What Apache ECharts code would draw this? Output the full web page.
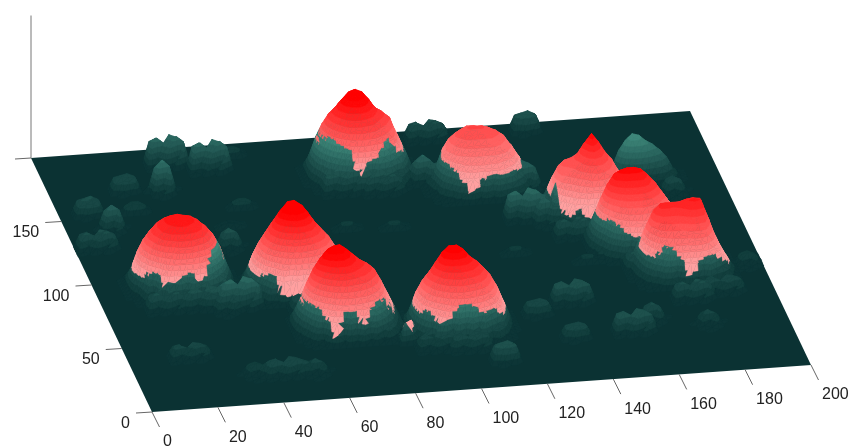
<!DOCTYPE html>
<html><head><meta charset="utf-8">
<style>html,body{margin:0;padding:0;background:#fff}#chart{width:849px;height:448px;filter:blur(0.7px)}</style>
<script src="https://cdn.jsdelivr.net/npm/echarts@6/dist/echarts.min.js"></script>
</head><body><div id="chart"></div>
<script>
const xTicks=[0,20,40,60,80,100,120,140,160,180,200];
const yTicks=[0,50,100,150,200];
const yLabelled=[0,50,100,150];
const zTop=150;
const step=2;
// height tables: rows run back to front, 17 columns low x to high x
const domeA=[
[0,0,3,8,19,31,41,46,50,48,45,41,31,19,8,3,0],
[0,6,17,31,43,50,54,57,59,58,54,50,43,31,17,6,0],
[2,10,25,41,50,57,61,63,64,62,61,57,50,41,25,10,2],
[3,15,33,45,54,61,65,67,68,66,65,61,54,45,33,15,3],
[4,19,37,49,57,62,67,69,70,69,66,62,57,49,37,19,4],
[5,21,38,50,58,63,67,69,69,69,67,63,58,50,38,20,5],
[4,19,37,49,57,62,66,68,69,68,66,62,57,49,37,19,4],
[3,15,33,45,54,61,64,66,67,66,64,61,54,45,33,15,3],
[2,10,25,41,50,57,61,62,63,62,61,57,50,41,25,12,2],
[1,6,17,31,43,50,54,57,58,57,54,50,43,31,19,9,1],
[0,4,14,19,31,41,45,49,50,49,45,41,31,21,16,5,0],
[0,2,12,8,25,32,37,38,38,38,36,30,24,14,15,3,0],
[0,1,8,3,16,22,20,25,18,24,16,20,9,11,10,1,0],
[0,0,3,0,3,11,6,13,4,10,5,9,3,7,2,0,0]];
const skirtA=[18,18,20,28,26,11,13,22,30,28,17,28,44,44,44,20,20];
const domeB=[
[0,0,3,8,17,28,38,46,50,48,42,36,27,16,8,3,0],
[0,5,15,28,38,48,55,60,62,60,54,46,38,28,15,5,0],
[1,9,24,38,48,58,66,70,72,70,64,56,47,37,24,9,1],
[3,13,30,42,52,62,72,78,80,76,68,60,51,42,30,13,3],
[4,18,34,46,55,64,76,84,85,80,72,62,54,46,35,18,4],
[5,20,36,48,56,66,76,83,85,82,72,63,55,48,37,20,5],
[4,19,35,47,55,63,70,76,78,74,68,60,54,47,35,19,4],
[3,15,32,44,52,59,64,68,70,68,63,57,52,44,32,15,3],
[2,10,26,40,48,54,58,60,62,60,57,53,48,40,26,12,2],
[1,7,18,32,42,48,52,54,55,53,51,47,41,32,20,9,1],
[0,5,14,22,32,40,44,46,47,45,43,38,32,22,14,6,0],
[0,3,7,17,26,33,36,37,37,36,34,30,24,16,9,3,0],
[0,2,3,11,10,24,16,25,20,26,17,21,13,12,5,1,0],
[0,0,1,3,4,10,4,11,8,11,6,9,4,6,1,0,0]];
const skirtB=[20,20,20,26,26,3,11,7,9,14,16,20,20,20,24,30,30];
const domeC=[
[0,2,8,18,30,40,46,48,46,42,38,33,27,17,8,2,0],
[3,10,22,36,48,55,60,62,60,56,50,46,40,28,14,5,0],
[8,18,34,48,58,66,70,72,68,62,58,54,48,36,22,8,1],
[12,26,42,56,66,74,78,79,74,68,62,58,52,40,26,12,2],
[14,30,46,60,70,78,81,80,74,67,63,60,54,42,28,14,3],
[15,30,46,60,70,76,78,77,72,66,62,59,53,40,27,13,3],
[13,28,44,56,64,70,72,72,68,63,60,56,50,38,25,12,3],
[10,24,40,50,58,63,66,66,64,60,57,52,46,35,23,11,2],
[7,18,34,44,51,56,59,60,58,55,52,47,41,31,20,9,1],
[4,12,26,36,44,48,51,52,50,48,46,41,34,26,16,6,0],
[2,8,18,28,34,40,43,44,43,41,39,35,28,20,13,4,0],
[0,4,12,14,27,32,35,36,36,35,32,28,22,12,9,2,0],
[0,1,6,4,16,22,15,24,17,26,16,20,9,11,4,1,0],
[0,0,2,1,7,11,4,10,6,13,4,8,2,5,1,0,0]];
const skirtC=[24,30,34,29,19,3,31,31,31,14,29,34,36,30,20,14,12];
const domeD=[
[0,0,3,8,18,30,38,46,50,46,40,36,28,18,8,3,0],
[0,5,16,29,40,48,56,62,64,60,54,48,40,30,16,5,0],
[1,9,24,38,48,56,66,72,73,70,62,56,50,40,24,9,1],
[3,14,32,44,52,62,72,78,78,74,66,60,54,46,32,15,3],
[4,18,36,47,56,64,74,80,81,76,68,63,56,48,36,19,4],
[5,20,36,48,56,64,72,76,77,73,67,62,56,47,36,20,5],
[5,19,34,46,54,60,67,70,70,68,64,59,53,45,34,19,4],
[4,18,32,42,50,56,61,63,64,62,60,56,50,42,31,16,3],
[3,14,30,38,46,51,55,57,58,56,54,51,46,38,28,13,2],
[1,10,22,32,40,45,49,51,52,50,48,45,40,33,24,8,1],
[0,6,16,24,32,38,42,44,45,43,41,38,33,25,17,5,0],
[0,3,10,14,26,32,35,36,37,35,33,29,24,14,11,2,0],
[0,1,7,5,21,24,14,23,16,24,15,22,10,12,5,1,0],
[0,0,2,1,9,11,3,10,5,12,4,11,3,6,1,0,0]];
const skirtD=[20,22,26,30,17,17,29,37,37,37,30,26,30,26,20,18,18];
const domeE=[
[0,0,3,8,18,30,40,48,54,50,44,38,33,20,8,3,0],
[0,6,18,32,44,52,60,66,70,66,58,52,46,34,18,6,0],
[2,10,26,42,52,60,68,74,78,74,66,58,54,44,26,10,2],
[4,16,34,48,58,64,72,79,81,78,70,60,56,50,32,15,3],
[4,20,38,50,60,66,74,81,82,78,70,62,57,52,34,19,4],
[5,21,39,50,58,66,72,78,80,74,68,60,56,50,36,21,5],
[5,20,36,48,56,62,68,72,73,70,64,58,53,47,34,21,5],
[4,18,32,44,52,58,63,65,66,64,60,54,50,44,32,20,4],
[3,14,28,38,47,53,58,60,60,58,56,50,46,40,30,16,3],
[1,9,20,32,41,47,52,54,54,52,50,46,40,33,24,11,1],
[0,6,16,24,32,38,44,46,47,46,44,40,32,26,18,7,0],
[0,3,10,12,24,30,35,37,38,36,33,29,24,13,11,3,0],
[0,1,6,4,14,19,22,17,24,15,22,17,9,12,7,1,0],
[0,0,2,1,4,9,6,14,5,11,6,9,3,7,2,0,0]];
const skirtE=[30,32,38,46,43,40,38,11,26,29,31,41,44,30,28,24,24];
const domeF=[
[0,0,0,2,10,22,34,40,42,40,34,22,10,2,0,0,0],
[0,0,3,12,26,38,44,48,48,46,44,38,26,12,3,0,0],
[0,2,8,24,38,44,48,50,50,50,48,44,38,24,8,2,0],
[2,5,14,32,42,47,50,52,52,52,50,47,42,32,14,5,2],
[3,8,20,34,43,48,50,51,51,51,50,48,44,34,20,8,3],
[4,10,24,36,42,46,48,49,49,49,48,46,42,36,24,10,4],
[4,12,26,36,40,44,46,46,46,46,46,44,40,36,26,12,4],
[3,10,25,34,38,41,43,43,43,43,43,41,38,34,25,10,3],
[2,8,22,30,36,38,39,40,40,40,39,38,36,30,22,8,2],
[1,5,18,26,32,34,36,36,36,36,36,34,32,26,18,5,1],
[0,4,14,20,28,32,33,34,34,33,33,30,26,20,14,4,0],
[0,2,7,14,22,27,29,30,30,29,28,26,22,14,8,2,0],
[0,1,4,6,14,18,22,16,22,15,21,16,11,7,4,1,0],
[0,0,1,2,5,9,12,5,9,5,9,4,4,2,1,0,0]];
const skirtF=[24,26,28,30,23,16,3,19,23,24,24,23,24,22,20,18,18];
const domeG=[
[0,0,2,6,14,22,28,34,38,34,28,22,14,8,4,0,0],
[0,3,10,20,28,34,40,46,50,44,38,30,22,14,6,2,0],
[1,8,18,30,38,42,46,54,60,52,44,38,28,20,10,4,0],
[2,12,26,38,46,48,52,62,70,62,52,44,32,24,14,6,1],
[3,16,32,44,49,50,54,66,75,66,55,47,34,26,16,7,2],
[4,18,34,46,48,50,54,62,70,62,54,46,36,26,17,8,2],
[3,18,36,45,46,48,52,58,62,58,52,45,36,26,18,8,2],
[2,16,34,42,44,46,50,54,56,54,49,43,34,26,18,9,2],
[1,13,30,38,41,44,47,50,51,50,46,41,34,25,18,9,1],
[0,9,24,32,36,40,43,46,47,46,43,38,31,24,16,7,1],
[0,5,18,26,30,35,38,42,42,40,38,34,28,22,14,5,0],
[0,3,10,18,24,29,32,34,34,33,31,27,23,16,10,3,0],
[0,1,5,13,20,16,23,18,24,22,20,15,14,9,6,1,0],
[0,0,1,6,10,4,11,5,10,12,7,5,6,3,2,0,0]];
const skirtG=[20,22,19,9,17,19,2,7,12,2,7,20,20,20,20,20,20];
const domeH=[
[0,2,8,18,30,38,44,46,44,38,32,26,18,10,4,0,0],
[3,10,22,36,48,55,58,60,58,52,46,38,28,18,8,3,0],
[8,18,34,48,58,64,68,68,66,60,52,44,34,24,12,4,0],
[12,26,42,56,66,70,72,72,70,64,56,46,37,28,16,6,1],
[14,30,46,60,70,73,74,74,72,65,58,48,38,30,18,7,2],
[15,30,46,60,68,70,71,71,70,62,58,49,38,32,20,8,2],
[14,28,44,56,62,65,66,66,65,60,54,48,38,32,20,9,3],
[12,24,38,50,56,59,60,60,59,55,50,44,37,30,20,10,2],
[8,20,30,44,50,53,54,54,53,50,46,40,34,28,19,9,1],
[5,14,24,36,44,47,48,48,47,44,40,36,30,25,16,7,1],
[2,9,20,30,36,40,42,42,41,38,36,32,28,22,14,5,0],
[1,5,14,22,28,32,35,35,34,31,29,26,22,15,9,3,0],
[0,2,7,12,20,17,24,19,23,17,20,14,14,9,5,1,0],
[0,0,2,4,9,4,11,5,12,6,8,5,6,3,2,0,0]];
const skirtH=[30,30,32,35,28,25,22,20,12,15,15,15,15,20,20,20,20];
const domeI=[
[0,0,3,8,18,28,36,42,44,46,46,40,20,8,2,0,0],
[0,4,12,22,34,46,52,54,54,56,56,50,30,12,4,0,0],
[1,8,20,34,48,58,60,60,60,62,63,60,38,16,6,1,0],
[2,12,28,42,56,62,62,62,62,65,66,65,44,20,8,2,0],
[3,14,32,46,58,63,63,62,63,66,67,66,48,26,10,3,0],
[4,16,34,46,56,60,60,60,61,64,65,64,48,28,12,4,1],
[4,16,32,44,52,56,56,56,57,60,60,58,46,30,14,5,1],
[3,14,30,40,47,51,52,52,53,55,55,53,43,30,16,6,1],
[2,12,26,36,43,46,47,47,48,50,50,48,40,30,18,7,1],
[1,9,22,30,37,41,42,43,44,45,45,43,36,28,18,6,0],
[0,6,16,26,32,36,37,38,38,40,40,37,30,24,14,4,0],
[0,3,10,19,25,30,32,33,33,34,33,30,24,14,10,2,0],
[0,1,5,8,18,21,15,24,23,24,18,22,12,9,5,1,0],
[0,0,1,3,8,10,4,11,12,9,6,10,3,4,1,0,0]];
const skirtI=[24,24,24,26,33,38,31,23,4,21,26,28,26,20,14,12,12];
const domeCentres=[[26,96],[60,90],[70,56],[102,50],[94,172],[128,158],[158,132],[168,104],[176,82]];
const domes=[domeA,domeB,domeC,domeD,domeE,domeF,domeG,domeH,domeI];
const skirts=[skirtA,skirtB,skirtC,skirtD,skirtE,skirtF,skirtG,skirtH,skirtI];
const notch=[[0,8,14,0],[0,18,22,0],[0,22,12,0]];
const notchSkirt=[12,12,12,12];
const hillBig=[
[0,2,8,16,22,22,18,14,10,6,3,0],
[2,12,28,38,44,42,36,32,26,16,6,1],
[4,16,30,38,42,40,36,32,28,20,8,2],
[4,14,24,30,32,32,30,26,22,16,8,2],
[2,8,16,20,22,22,20,16,14,10,6,1],
[1,3,6,8,10,8,8,8,6,4,2,0]];
const hillBlock=[[0,0,0,0,0,0],[0,8,9,10,8,0],[0,9,10,9,9,0],[0,7,8,8,6,0],[0,0,3,0,0,0]];
const hillPeak=[[0,0,3,1,0],[0,7,9,6,0],[2,8,10,8,1],[0,6,3,7,0],[0,2,0,3,0],[0,0,2,0,0]];
const hillWide=[[0,0,2,0,3,0,2,0],[0,8,9,4,10,9,7,0],[0,9,10,8,9,10,8,0],[0,7,3,6,8,2,6,0],[0,1,0,3,0,4,0,0]];
const hillFlat=[[0,0,0,0],[6,10,10,6],[6,10,9,5],[0,0,0,0]];
const hillShapes={b:hillBlock,p:hillPeak,w:hillWide,f:hillFlat};
// centre x, centre y, height, outline
const hillSpots=[[40,187,28,'w'],[52,182,28,'w'],[33,165,32,'p'],[23,170,15,'b'],[9,154,16,'b'],[14,139,24,'p'],[24,151,10,'f'],[8,128,16,'w'],[46,119,18,'p'],[50,136,5,'f'],
[42,76,28,'w'],[36,72,18,'p'],[19,39,12,'w'],[45,21,15,'w'],[36,22,10,'p'],[54,20,12,'p'],[112,19,18,'b'],[127,54,13,'b'],[140,62,20,'w'],[154,36,20,'w'],[160,42,16,'p'],[136,34,13,'b'],[175,36,12,'p'],
[150,194,18,'b'],[119,194,16,'w'],[137,128,28,'w'],[142,122,24,'p'],[112,160,26,'p'],[142,150,24,'p'],[88,158,18,'w'],[100,156,16,'w'],[20,78,16,'w'],[32,78,18,'w'],[62,70,14,'w'],[104,32,14,'w'],[94,34,12,'w'],[176,58,16,'w'],[186,62,13,'w'],[150,112,16,'w'],[165,84,16,'w'],
[70,140,6,'f'],[83,127,6,'f'],[98,125,6,'f'],[55,150,8,'f'],[130,100,6,'f'],[150,90,6,'f'],[110,90,6,'f'],[60,190,8,'f'],[140,168,6,'f'],[165,135,5,'f'],[195,80,10,'p'],[184,137,15,'p']];

// floor-to-page projection of the reference's view
const V={ox:152,oy:412,xx:3.295,xy:-0.235,yx:-0.605,yy:-1.27,zz:0.95};
function proj(x,y,z){return [V.ox+V.xx*x+V.yx*y, V.oy+V.xy*x+V.yy*y-V.zz*z];}

const N=100;
const H=[],T=[];
for(let j=0;j<=N;j++){H.push(new Array(N+1).fill(0));T.push(new Array(N+1).fill(Infinity));}
function put(i,j,v,th){if(i>=0&&i<=N&&j>=0&&j<=N&&v>H[j][i]){H[j][i]=v;T[j][i]=th;}}
domes.forEach((d,k)=>{const c=domeCentres[k],s=skirts[k];
  d.forEach((row,r)=>row.forEach((v,q)=>put(c[0]/step+q-8,c[1]/step+5-r,v,s[q])));});
notch.forEach((row,r)=>row.forEach((v,q)=>put(41+q,21-r,v,notchSkirt[q])));
hillSpots.forEach(s=>{const g=hillShapes[s[3]];
  g.forEach((row,r)=>row.forEach((v,q)=>put(Math.round(s[0]/step)+q-(row.length>>1),Math.round(s[1]/step)+(g.length>>1)-r,v*s[2]/10,Infinity)));});
hillBig.forEach((row,r)=>row.forEach((v,q)=>put(83+q,78-r,v,Infinity)));

const floorRGB=[11,50,51],tealRGB=[62,135,122],pinkRGB=[255,160,160],redRGB=[255,0,0];
const PINK0=22,ZMAX=76,PINKBANDS=11,TEALSTEP=5,TEALTOP=42;
function mix(p,q,t){return 'rgb('+p.map((v,k)=>Math.round(v+(q[k]-v)*t)).join(',')+')';}
function bandColour(mid,th){
  if(mid<th)return mix(floorRGB,tealRGB,Math.min(1,Math.pow(mid/TEALTOP,1.15)));
  return mix(pinkRGB,redRGB,Math.max(0,Math.min(1,(mid-PINK0)/(ZMAX-PINK0))));
}
// clip a triangle to lo<=z<=hi
function clipBand(tri,lo,hi){
  function cut(poly,lim,keepAbove){
    const out=[];
    for(let n=0;n<poly.length;n++){
      const a=poly[n],b=poly[(n+1)%poly.length];
      const ina=keepAbove?a[2]>=lim:a[2]<=lim,inb=keepAbove?b[2]>=lim:b[2]<=lim;
      if(ina)out.push(a);
      if(ina!==inb){const t=(lim-a[2])/(b[2]-a[2]);out.push([a[0]+(b[0]-a[0])*t,a[1]+(b[1]-a[1])*t,lim]);}
    }
    return out;
  }
  let p=cut(tri,lo,true);if(p.length<3)return [];
  p=cut(p,hi,false);return p;
}
const polys=[];
function addTriangle(tri,th){
  const zs=tri.map(v=>v[2]),zmin=Math.min(...zs),zmax=Math.max(...zs);
  if(zmax<=0)return;
  const lv=[];
  const tealEnd=th===Infinity?TEALTOP*4:th;
  for(let l=0;l<tealEnd;l+=TEALSTEP)lv.push(l);
  if(th!==Infinity){lv.push(th);for(let b=0;b<=PINKBANDS;b++){const l=PINK0+b*(ZMAX-PINK0)/PINKBANDS;if(l>th)lv.push(l);}}
  lv.push(1000);
  for(let k=0;k<lv.length-1;k++){
    const lo=lv[k],hi=lv[k+1];
    if(hi<=zmin||lo>=zmax)continue;
    const p=clipBand(tri,lo,hi);
    if(p.length>=3)polys.push({p,c:bandColour(hi===1000?lo:(lo+hi)/2,th)});
  }
}
for(let j=N-1;j>=0;j--)for(let i=N-1;i>=0;i--){
  const X=i*step,Y=j*step;
  const a=[X,Y,H[j][i]],b=[X+step,Y,H[j][i+1]],c=[X+step,Y+step,H[j+1][i+1]],d=[X,Y+step,H[j+1][i]];
  const ta=T[j][i],tb=T[j][i+1],tc=T[j+1][i+1],td=T[j+1][i];
  addTriangle([a,c,d],(ta+tc+td)/3);
  addTriangle([a,b,c],(ta+tb+tc)/3);
}
const tickStyle={stroke:'#666',lineWidth:1};
const chart=echarts.init(document.getElementById('chart'),null,{renderer:'canvas'});
chart.setOption({
  animation:false,
  grid:{left:0,right:0,top:0,bottom:0},
  xAxis:{type:'value',min:0,max:849,show:false},
  yAxis:{type:'value',min:0,max:448,inverse:true,show:false},
  series:[
   {type:'custom',coordinateSystem:'cartesian2d',silent:true,clip:false,z:1,data:[[0]],
    renderItem(p,api){
      const pts=[proj(0,0,0),proj(200,0,0),proj(200,200,0),proj(0,200,0)].map(q=>api.coord(q));
      const top=api.coord(proj(0,200,zTop));
      return {type:'group',children:[
        {type:'polygon',shape:{points:pts},style:{fill:'rgb(11,50,51)'}},
        {type:'line',shape:{x1:pts[3][0],y1:pts[3][1],x2:top[0],y2:top[1]},style:{stroke:'#777',lineWidth:1}}
      ]};
    }},
   {type:'custom',coordinateSystem:'cartesian2d',silent:true,clip:false,z:2,data:xTicks.map(v=>[v]),
    renderItem(p,api){
      const v=api.value(0),a=api.coord(proj(v,0,0));
      return {type:'group',children:[
        {type:'line',shape:{x1:a[0],y1:a[1],x2:a[0]+7.5,y2:a[1]+15},style:tickStyle},
        {type:'text',style:{text:String(v),x:a[0]+11,y:a[1]+30,align:'left',verticalAlign:'middle',fill:'#222',font:'16px "Liberation Sans"'}}
      ]};
    }},
   {type:'custom',coordinateSystem:'cartesian2d',silent:true,clip:false,z:2,data:yTicks.map(v=>[v]),
    renderItem(p,api){
      const v=api.value(0),a=api.coord(proj(0,v,0));
      const kids=[{type:'line',shape:{x1:a[0],y1:a[1],x2:a[0]-16,y2:a[1]+1},style:tickStyle}];
      if(yLabelled.indexOf(v)>=0)kids.push({type:'text',style:{text:String(v),x:a[0]-22,y:a[1]+11.5,align:'right',verticalAlign:'middle',fill:'#222',font:'16px "Liberation Sans"'}});
      return {type:'group',children:kids};
    }},
   {type:'custom',coordinateSystem:'cartesian2d',silent:true,clip:false,z:3,progressive:0,animation:false,
    data:polys.map((c,k)=>[k]),
    renderItem(p,api){
      const q=polys[p.dataIndex];
      const pts=q.p.map(v=>api.coord(proj(v[0],v[1],v[2])));
      return {type:'polygon',shape:{points:pts},style:{fill:q.c,stroke:q.c,lineWidth:0.5}};
    }}
  ]
});
</script></body></html>
